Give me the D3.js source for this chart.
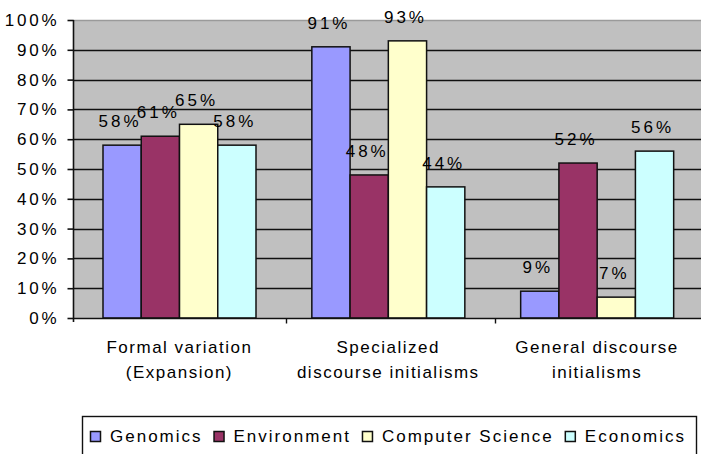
<!DOCTYPE html>
<html>
<head>
<meta charset="utf-8">
<script src="https://cdn.jsdelivr.net/npm/d3@7"></script>
<style>
  html, body { margin: 0; padding: 0; background: #fff; }
  svg { display: block; }
  text { font-family: "Liberation Sans", Arial, sans-serif; fill: #000; }
</style>
</head>
<body>
<svg id="chart" width="701" height="454"></svg>
<script>
// ---- data ----
const categories = ["Formal variation (Expansion)", "Specialized discourse initialisms", "General discourse initialisms"];
const categoryLines = [["Formal variation", "(Expansion)"], ["Specialized", "discourse initialisms"], ["General discourse", "initialisms"]];
const series = ["Genomics", "Environment", "Computer Science", "Economics"];
const genomics = [0.58, 0.91, 0.09];
const environment = [0.61, 0.48, 0.52];
const computerScience = [0.65, 0.93, 0.07];
const economics = [0.58, 0.44, 0.56];
const seriesColors = ["#9999FF", "#993366", "#FFFFCC", "#CCFFFF"];
const yTicks = [0, 0.1, 0.2, 0.3, 0.4, 0.5, 0.6, 0.7, 0.8, 0.9, 1.0];

const values = [genomics, environment, computerScience, economics];

// ---- layout ----
const svg = d3.select("#chart");
const plot = { left: 73, right: 701, top: 20, bottom: 318 };

const y = d3.scaleLinear().domain([0, 1]).range([plot.bottom, plot.top]);
const x0 = d3.scaleBand().domain(categories).range([77, 703.5]).padding(0);
const x1 = d3.scaleBand().domain(series).range([26, 179]).padding(0);
const fmt = d3.format(".0%");

// plot area background
svg.append("rect")
  .attr("x", plot.left).attr("y", plot.top)
  .attr("width", plot.right - plot.left + 2).attr("height", plot.bottom - plot.top)
  .attr("fill", "#C0C0C0");

// gridlines
svg.append("g").selectAll("line")
  .data(yTicks.filter(t => t > 0))
  .join("line")
  .attr("x1", plot.left).attr("x2", plot.right + 2)
  .attr("y1", d => Math.round(y(d)) + 0.5).attr("y2", d => Math.round(y(d)) + 0.5)
  .attr("stroke", d => d >= 1 ? "#9a9a9a" : "#111")
  .attr("stroke-width", d => d >= 1 ? 1.5 : 1.6);

// bars
const groups = svg.append("g").selectAll("g")
  .data(categories)
  .join("g")
  .attr("transform", c => `translate(${x0(c)},0)`);

groups.selectAll("rect")
  .data((c, ci) => series.map((s, si) => ({ s, si, v: values[si][ci] })))
  .join("rect")
  .attr("x", d => x1(d.s))
  .attr("y", d => y(d.v))
  .attr("width", x1.bandwidth())
  .attr("height", d => y(0) - y(d.v))
  .attr("fill", d => seriesColors[d.si])
  .attr("stroke", "#111")
  .attr("stroke-width", 1.5);

// data labels
groups.selectAll("text.lbl")
  .data((c, ci) => series.map((s, si) => ({ s, si, v: values[si][ci] })))
  .join("text")
  .attr("class", "lbl")
  .attr("x", d => x1(d.s) + x1.bandwidth() / 2 - 2)
  .attr("y", d => y(d.v) - 18)
  .attr("text-anchor", "middle")
  .style("font-size", "17px")
  .style("letter-spacing", "3px")
  .text(d => fmt(d.v));

// y axis
const yAxis = svg.append("g")
  .attr("transform", `translate(${plot.left + 0.5},0)`)
  .call(d3.axisLeft(y).tickValues(yTicks).tickFormat(fmt).tickSize(6).tickPadding(8));
yAxis.select(".domain").attr("stroke", "#111").attr("stroke-width", 1.6)
  .attr("d", `M0,${plot.top}V${plot.bottom + 4}`);
yAxis.selectAll(".tick line").attr("stroke", "#111").attr("stroke-width", 1.6);
yAxis.selectAll(".tick text")
  .style("font-size", "17px")
  .style("letter-spacing", "2.8px")
  .attr("fill", "#000")
  .style("font-family", '"Liberation Sans", Arial, sans-serif');

// x axis
const xAxis = svg.append("g")
  .attr("transform", `translate(0,${plot.bottom + 0.5})`)
  .call(d3.axisBottom(x0).tickSize(0).tickFormat(""));
xAxis.select(".domain").attr("stroke", "#111").attr("stroke-width", 1.6)
  .attr("d", `M${plot.left},0H${plot.right + 2}`);
xAxis.selectAll(".tick").remove();
xAxis.selectAll("line.sep")
  .data(categories.slice(1))
  .join("line")
  .attr("class", "sep")
  .attr("x1", c => Math.round(x0(c)) + 0.5).attr("x2", c => Math.round(x0(c)) + 0.5)
  .attr("y1", 0).attr("y2", 5)
  .attr("stroke", "#111").attr("stroke-width", 1.4);

// category labels
const catLabels = svg.append("g").selectAll("text")
  .data(categories)
  .join("text")
  .attr("text-anchor", "middle")
  .style("font-size", "17px")
  .style("letter-spacing", "1.5px");
catLabels.each(function (c, i) {
  const t = d3.select(this);
  const cx = x0(c) + x0.bandwidth() / 2 - 2;
  categoryLines[i].forEach((line, li) => {
    t.append("tspan").attr("x", cx).attr("y", 353 + li * 25).text(line);
  });
});

// legend
const legend = svg.append("g");
legend.append("rect")
  .attr("x", 82.5).attr("y", 416.5)
  .attr("width", 614).attr("height", 60)
  .attr("fill", "#fff").attr("stroke", "#111").attr("stroke-width", 1.4);
let lx = 90;
series.forEach((s, i) => {
  legend.append("rect")
    .attr("x", lx + 0.5).attr("y", 431.5)
    .attr("width", 10).attr("height", 10)
    .attr("fill", seriesColors[i]).attr("stroke", "#111").attr("stroke-width", 1.5);
  const t = legend.append("text")
    .attr("x", lx + 20).attr("y", 442)
    .style("font-size", "17px")
    .style("letter-spacing", "2px")
    .text(s);
  lx = lx + 20 + t.node().getComputedTextLength() + 11;
});
</script>
</body>
</html>
